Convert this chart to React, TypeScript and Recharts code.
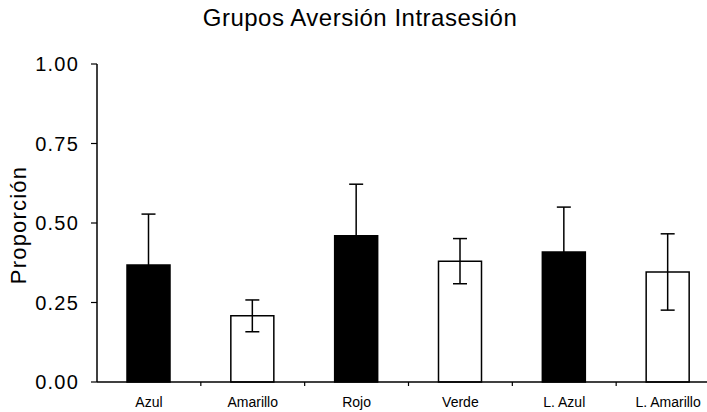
import { BarChart, Bar, XAxis, YAxis, Cell, ErrorBar, Label } from "recharts";

const categories = ["Azul", "Amarillo", "Rojo", "Verde", "L. Azul", "L. Amarillo"];
const proportions = [0.368, 0.208, 0.46, 0.38, 0.409, 0.346];
const errors = [0.16, 0.05, 0.162, 0.071, 0.141, 0.12];
const yTicks = [0, 0.25, 0.5, 0.75, 1];

const FONT = "'Liberation Sans', Arial, sans-serif";

const data = categories.map((name, i) => ({
  name,
  value: proportions[i],
  err: errors[i],
}));

// barras alternadas: negro / blanco
const fillFor = (i: number) => (i % 2 === 0 ? "#000" : "#fff");

function CategoryTick(props: any) {
  const { x, y, payload, index } = props;
  const half = payload?.offset ?? 52;
  const axisY = y - 8;
  return (
    <g>
      {index > 0 && (
        <line x1={x - half} x2={x - half} y1={axisY} y2={axisY + 4} stroke="#000" strokeWidth={1.2} />
      )}
      <text x={x} y={y + 17} textAnchor="middle" fontSize={14} fontFamily={FONT} fill="#000">
        {payload.value}
      </text>
    </g>
  );
}

export default function App() {
  return (
    <div
      style={{
        position: "absolute",
        left: 0,
        top: 0,
        width: 707,
        height: 412,
        overflow: "hidden",
        background: "#fff",
      }}
    >
      <div
        style={{
          position: "absolute",
          top: 6,
          left: 160,
          width: 400,
          textAlign: "center",
          fontFamily: FONT,
          fontSize: 24,
          lineHeight: 1,
          letterSpacing: 0.5,
          color: "#000",
        }}
      >
        Grupos Aversión Intrasesión
      </div>
      <BarChart
        width={720}
        height={412}
        data={data}
        margin={{ top: 64, right: 0, bottom: 0, left: 0 }}
        barSize={43}
      >
        <XAxis
          dataKey="name"
          height={30}
          axisLine={{ stroke: "#000", strokeWidth: 1.5 }}
          tickLine={false}
          tick={<CategoryTick />}
          interval={0}
        />
        <YAxis
          width={97}
          domain={[0, 1]}
          ticks={yTicks}
          tickFormatter={(v: number) => v.toFixed(2)}
          axisLine={{ stroke: "#000", strokeWidth: 1.5 }}
          tickLine={{ stroke: "#000", strokeWidth: 1.2 }}
          tickSize={6}
          tickMargin={12}
          tick={{ fontSize: 20, fontFamily: FONT, fill: "#000", letterSpacing: 1.2 }}
        >
          <Label
            content={(p: any) => {
              const vb = p.viewBox || { x: 0, y: 64, height: 318 };
              const cx = 18;
              const cy = vb.y + vb.height / 2 + 2;
              return (
                <text
                  x={cx}
                  y={cy}
                  transform={`rotate(-90 ${cx} ${cy})`}
                  textAnchor="middle"
                  dominantBaseline="central"
                  fontSize={22}
                  letterSpacing={1.2}
                  fontFamily={FONT}
                  fill="#000"
                >
                  Proporción
                </text>
              );
            }}
          />
        </YAxis>
        <Bar dataKey="value" stroke="#000" strokeWidth={1.5} isAnimationActive={false}>
          {data.map((d, i) => (
            <Cell key={d.name} fill={fillFor(i)} />
          ))}
          <ErrorBar dataKey="err" width={7} stroke="#000" strokeWidth={1.5} />
        </Bar>
      </BarChart>
    </div>
  );
}
